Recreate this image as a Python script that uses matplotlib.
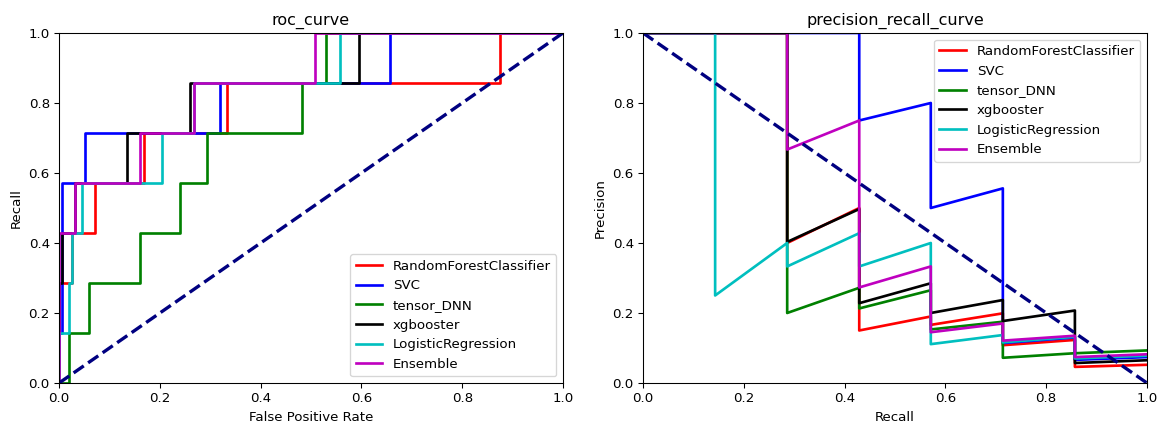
import numpy as np
from matplotlib import pyplot as plt

names = ['RandomForestClassifier', 'SVC', 'tensor_DNN', 'xgbooster', 'LogisticRegression', 'Ensemble']
colors = ['r', 'b', 'g', 'k', 'c', 'm']

# roc curve corner points (fpr, tpr)
roc_fpr = [
    [0, 0, 0.026, 0.026, 0.072, 0.072, 0.168, 0.168, 0.334, 0.334, 0.876, 0.876, 1],
    [0, 0, 0.006, 0.006, 0.052, 0.052, 0.320, 0.320, 0.656, 0.656, 1],
    [0, 0.019, 0.019, 0.060, 0.060, 0.160, 0.160, 0.239, 0.239, 0.293, 0.293, 0.482, 0.482, 0.529, 0.529, 1],
    [0, 0, 0.005, 0.005, 0.032, 0.032, 0.134, 0.134, 0.259, 0.259, 0.595, 0.595, 1],
    [0, 0, 0.020, 0.020, 0.026, 0.026, 0.045, 0.045, 0.205, 0.205, 0.267, 0.267, 0.557, 0.557, 1],
    [0, 0, 0.032, 0.032, 0.160, 0.160, 0.267, 0.267, 0.508, 0.508, 1],
]
roc_tpr = [
    [0, 0.286, 0.286, 0.429, 0.429, 0.571, 0.571, 0.714, 0.714, 0.857, 0.857, 1, 1],
    [0, 0.143, 0.143, 0.571, 0.571, 0.714, 0.714, 0.857, 0.857, 1, 1],
    [0, 0, 0.143, 0.143, 0.286, 0.286, 0.429, 0.429, 0.571, 0.571, 0.714, 0.714, 0.857, 0.857, 1, 1],
    [0, 0.286, 0.286, 0.429, 0.429, 0.571, 0.571, 0.714, 0.714, 0.857, 0.857, 1, 1],
    [0, 0.143, 0.143, 0.286, 0.286, 0.429, 0.429, 0.571, 0.571, 0.714, 0.714, 0.857, 0.857, 1, 1],
    [0, 0.429, 0.429, 0.571, 0.571, 0.714, 0.714, 0.857, 0.857, 1, 1],
]

# precision recall curve, recall points shared by all models
pr_recall = [1.0, 0.857, 0.857, 0.714, 0.714, 0.571, 0.571, 0.429, 0.429, 0.286, 0.286, 0.143, 0.143, 0.0]
pr_precision = [
    [0.052, 0.046, 0.123, 0.108, 0.199, 0.166, 0.190, 0.150, 0.5, 0.4, 1, 1, 1, 1],
    [0.074, 0.066, 0.130, 0.114, 0.556, 0.5, 0.8, 0.75, 1, 1, 1, 1, 1, 1],
    [0.093, 0.085, 0.085, 0.072, 0.175, 0.153, 0.265, 0.213, 0.272, 0.2, 1, 1, 1, 1],
    [0.065, 0.057, 0.207, 0.177, 0.237, 0.2, 0.285, 0.228, 0.497, 0.403, 1, 1, 1, 1],
    [0.078, 0.070, 0.132, 0.116, 0.137, 0.111, 0.40, 0.333, 0.428, 0.333, 0.40, 0.25, 1, 1],
    [0.082, 0.074, 0.135, 0.121, 0.170, 0.145, 0.333, 0.273, 0.75, 0.667, 1, 1, 1, 1],
]

fig, (ax1, ax2) = plt.subplots(1, 2, figsize=(1159 / 96, 423 / 96), dpi=96)
plt.subplots_adjust(left=0.051, right=0.9896, bottom=0.0946, top=0.922, wspace=0.159)

for i in range(len(names)):
    ax1.plot(roc_fpr[i], roc_tpr[i], color=colors[i], lw=2, label=names[i])
ax1.plot([0, 1], [0, 1], color='navy', lw=2.5, linestyle='--')
ax1.set_xlim([0.0, 1.0])
ax1.set_ylim([0.0, 1.0])
ax1.set_xlabel('False Positive Rate')
ax1.set_ylabel('Recall')
ax1.set_title('roc_curve')
ax1.legend(loc='lower right')

for i in range(len(names)):
    ax2.plot(pr_recall, pr_precision[i], color=colors[i], lw=2, label=names[i])
ax2.plot([0, 1], [1, 0], color='navy', lw=2.5, linestyle='--')
ax2.set_xlim([0.0, 1.0])
ax2.set_ylim([0.0, 1.0])
ax2.set_xlabel('Recall')
ax2.set_ylabel('Precision')
ax2.set_title('precision_recall_curve')
ax2.legend(loc='upper right')

plt.savefig('out.png', dpi=96)
